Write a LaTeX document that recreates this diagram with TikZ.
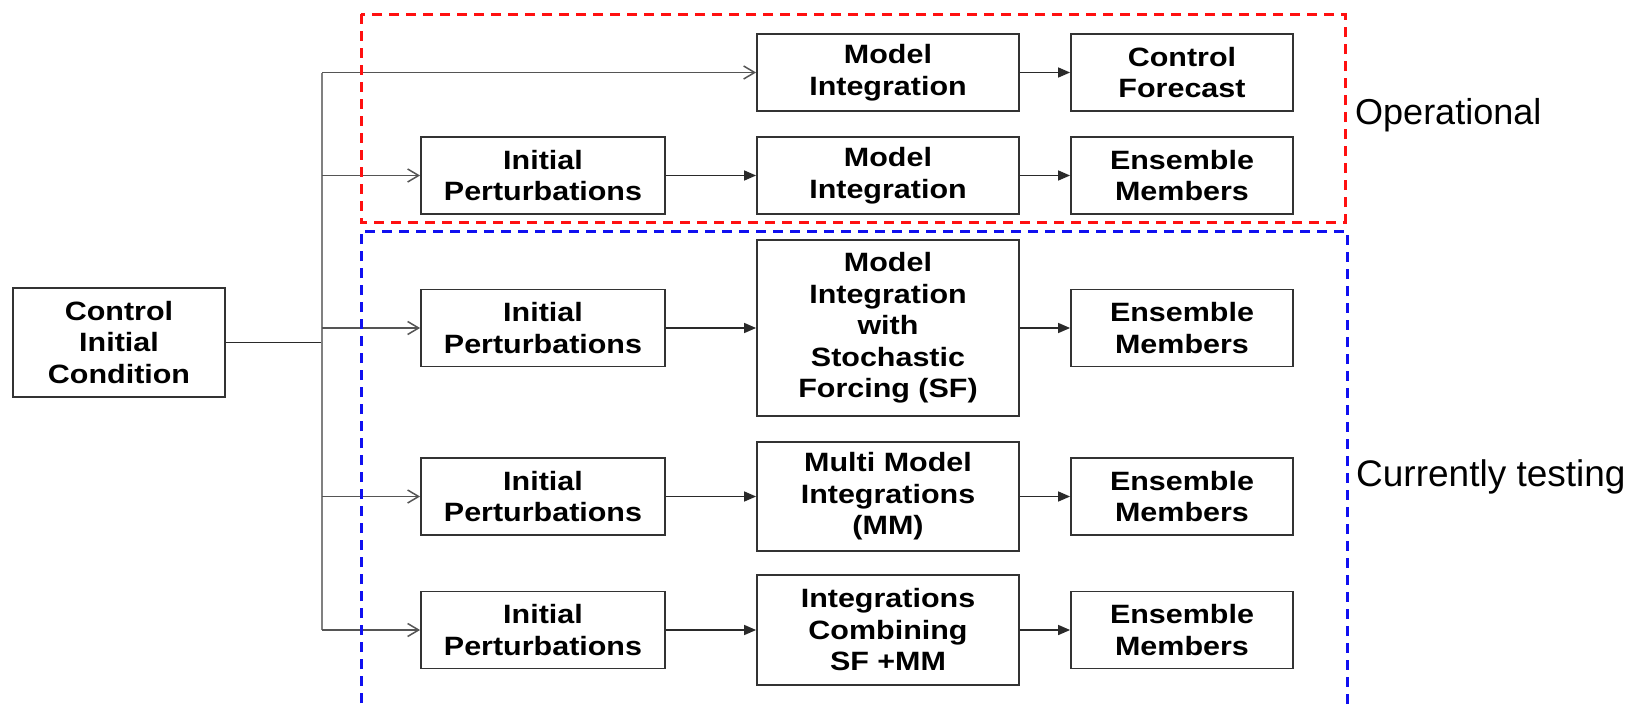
\documentclass[tikz,border=0pt]{standalone}
\usepackage{fontspec}
\setmainfont{Liberation Sans}
\newfontfamily\boxfont[FakeStretch=1.15]{Liberation Sans}
\usetikzlibrary{arrows.meta}
\definecolor{boxline}{HTML}{333333}
\definecolor{conn}{HTML}{2a2a2a}
\definecolor{trunkc}{HTML}{808080}
\definecolor{branchc}{HTML}{555555}
\definecolor{opred}{HTML}{FF1010}
\definecolor{testblue}{HTML}{1010F0}
\begin{document}
\begin{tikzpicture}[x=1pt,y=-1pt,
  blk/.style={draw=boxline, line width=1.8pt, fill=white, align=center,
    font=\boxfont\bfseries\fontsize{26.5}{31.5}\selectfont, inner sep=0pt},
  ipbox/.style={blk, minimum width=244pt, minimum height=77pt},
  midbox/.style={blk, minimum width=262pt},
  endbox/.style={blk, minimum width=222pt, minimum height=77pt},
  conn/.style={draw=conn, line width=1.5pt, -{Triangle[length=12pt,width=10pt]}},
  branch/.style={draw=branchc, line width=1.5pt, -{Straight Barb[length=11pt,width=13pt,line width=1.5pt]}},
  trunk/.style={draw=trunkc, line width=2.5pt},
  lab/.style={anchor=base west, inner sep=0pt},
  regionbox/.style={line width=3pt, dash pattern=on 10pt off 7pt}
]
\useasboundingbox (0,0) rectangle (1642,704);
\clip (0,0) rectangle (1642,704);
\fill[white] (0,0) rectangle (1642,704);

% source box
\node[blk, minimum width=212pt, minimum height=109pt] (cic) at (119,342.5) {Control\\Initial\\Condition};

% row 1
\node[midbox, minimum height=77pt] (mi1) at (888,72.5) {Model\\Integration};
\node[endbox] (cf) at (1182,72.5) {Control\\Forecast};
% row 2
\node[ipbox] (ip2) at (543,175.5) {Initial\\Perturbations};
\node[midbox, minimum height=77pt] (mi2) at (888,175.5) {Model\\Integration};
\node[endbox] (em2) at (1182,175.5) {Ensemble\\Members};
% row 3
\node[ipbox] (ip3) at (543,328) {Initial\\Perturbations};
\node[midbox, minimum height=176pt] (sf) at (888,328) {Model\\Integration\\with\\Stochastic\\Forcing (SF)};
\node[endbox] (em3) at (1182,328) {Ensemble\\Members};
% row 4
\node[ipbox] (ip4) at (543,496.5) {Initial\\Perturbations};
\node[midbox, minimum height=109pt] (mm) at (888,496.5) {Multi Model\\Integrations\\(MM)};
\node[endbox] (em4) at (1182,496.5) {Ensemble\\Members};
% row 5
\node[ipbox] (ip5) at (543,630) {Initial\\Perturbations};
\node[midbox, minimum height=110pt] (comb) at (888,630) {Integrations\\Combining\\SF +MM};
\node[endbox] (em5) at (1182,630) {Ensemble\\Members};

% trunk
\coordinate (j) at (322,342.5);
\coordinate (t1) at (322,72.5);
\coordinate (t2) at (322,175.5);
\coordinate (t3) at (322,328);
\coordinate (t4) at (322,496.5);
\coordinate (t5) at (322,630);
\draw[draw=conn, line width=1.5pt] (cic.east) -- (j);
\draw[trunk] (t1) -- (t5);
\draw[branch] (t1) -- (mi1.west);
\draw[branch] (t2) -- (ip2.west);
\draw[branch] (t3) -- (ip3.west);
\draw[branch] (t4) -- (ip4.west);
\draw[branch] (t5) -- (ip5.west);

% box to box
\draw[conn] (mi1) -- (cf);
\draw[conn] (ip2) -- (mi2);
\draw[conn] (mi2) -- (em2);
\draw[conn] (ip3) -- (sf);
\draw[conn] (sf) -- (em3);
\draw[conn] (ip4) -- (mm);
\draw[conn] (mm) -- (em4);
\draw[conn] (ip5) -- (comb);
\draw[conn] (comb) -- (em5);

% regions
\draw[regionbox, draw=opred] (361,14) rectangle (1345,222);
\draw[regionbox, draw=testblue] (361,720) -- (361,231) -- (1347,231) -- (1347,720);

\node[lab, font=\fontsize{36}{40}\selectfont] (op) at (1355,124) {Operational};
\node[lab, font=\fontsize{37}{42}\selectfont] (ct) at (1356,486) {Currently testing};
\end{tikzpicture}
\end{document}
